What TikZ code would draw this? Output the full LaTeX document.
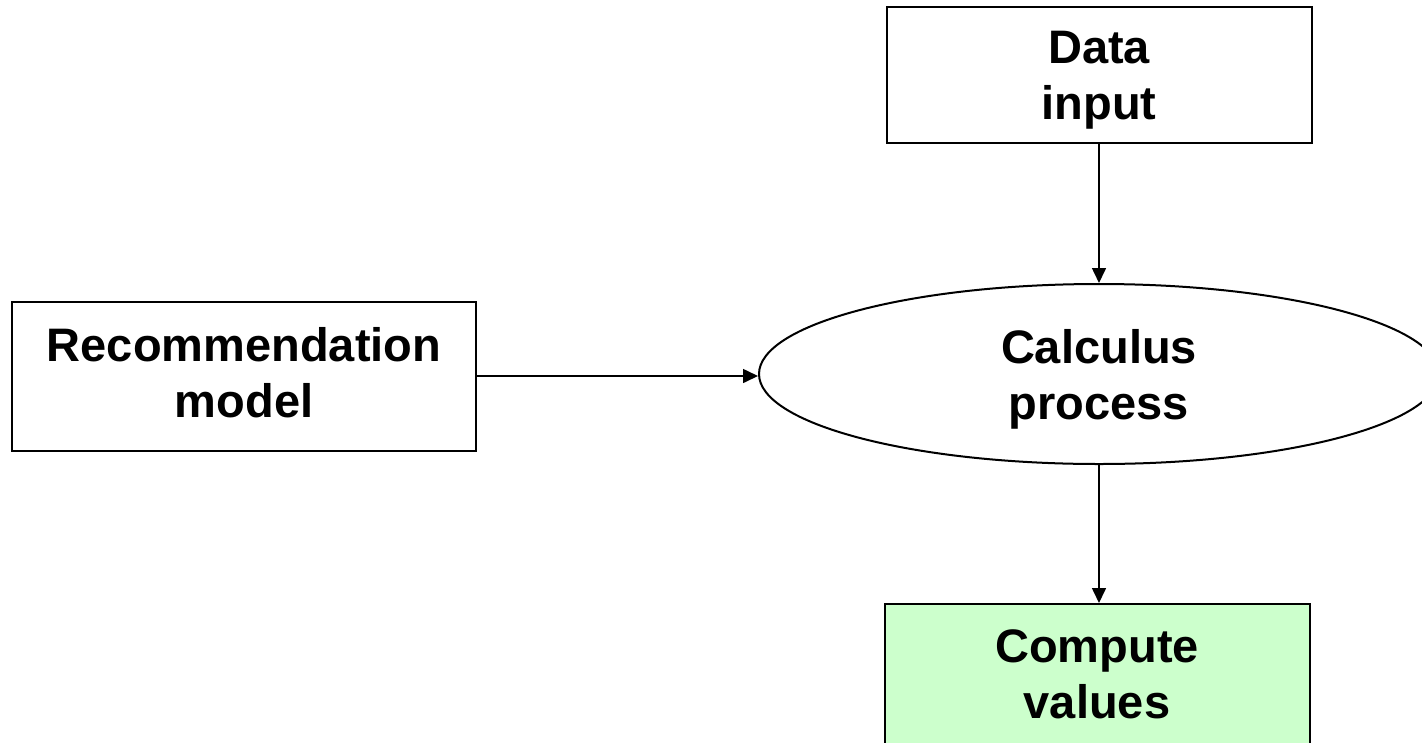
\documentclass[tikz,border=0pt]{standalone}
\usepackage{fontspec}
\setmainfont{Liberation Sans}
\usetikzlibrary{shapes.geometric,arrows.meta}
\definecolor{lightgreen}{HTML}{CCFFCC}
\begin{document}
\begin{tikzpicture}[x=1pt,y=-1pt,
  boxstyle/.style={draw=black,line width=2pt,rectangle,inner sep=0pt,align=center,text depth=0pt,
    font=\fontsize{47}{56}\selectfont\bfseries},
  ovalstyle/.style={draw=black,line width=2pt,ellipse,inner sep=0pt,align=center,text depth=0pt,
    minimum width=680pt,minimum height=180pt,font=\fontsize{47}{56}\selectfont\bfseries},
  arrowstyle/.style={line width=1.6pt,-{Triangle[length=15pt,width=14pt]}}]
\useasboundingbox (0,0) rectangle (1422,742);
\clip (0,0) rectangle (1422,742);
\fill[white] (0,0) rectangle (1422,742);
\node[boxstyle,minimum width=425pt,minimum height=136pt] (din) at (1099,75) {Data\\input};
\node[boxstyle,text depth=8pt,minimum width=464pt,minimum height=149pt] (rec) at (244,376) {Recommendation\\model};
\node[ovalstyle] (calc) at (1099,374) {Calculus\\process};
\node[boxstyle,fill=lightgreen,minimum width=425pt,minimum height=140pt] (cv) at (1097,674) {Compute\\values};
\draw[arrowstyle] (din.south) -- (calc.north);
\draw[arrowstyle] (rec.east) -- (rec.east -| calc.west);
\draw[arrowstyle] (calc.south) -- (cv.north -| calc.south);
\end{tikzpicture}
\end{document}
